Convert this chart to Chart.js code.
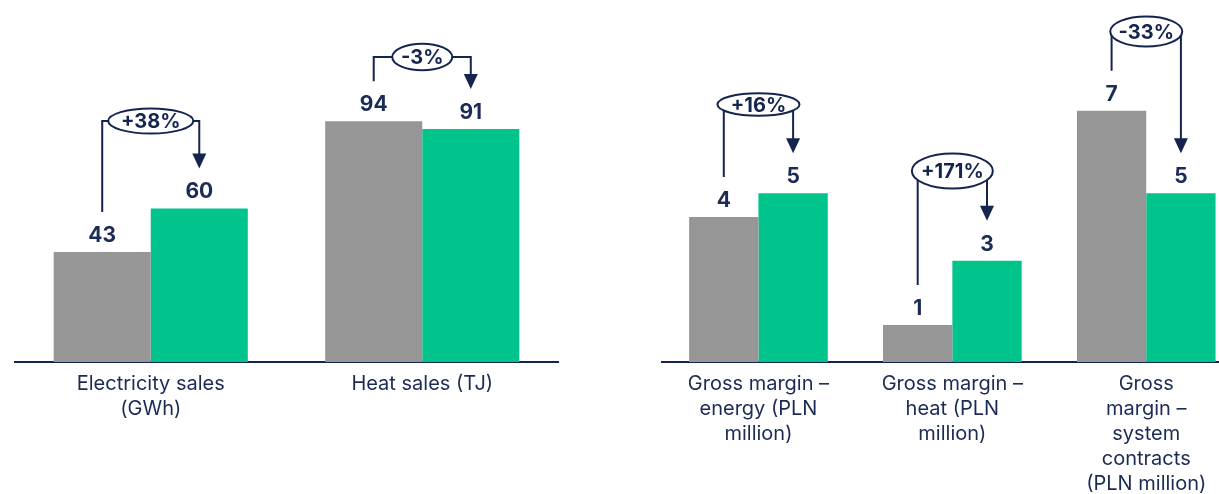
<!DOCTYPE html>
<html>
<head>
<meta charset="utf-8">
<script src="https://cdn.jsdelivr.net/npm/chart.js@4.4.1/dist/chart.umd.min.js"></script>
<style>
  html, body { margin: 0; padding: 0; background: #fff; overflow: hidden; width: 1219px; height: 494px; }
  #wrap { position: relative; width: 1219px; height: 494px; overflow: hidden; }
  #volumes { position: absolute; left: 0; top: 0; }
  #margins { position: absolute; left: 600px; top: 0; }
</style>
</head>
<body>
<div id="wrap">
  <canvas id="volumes" width="600" height="494"></canvas>
  <canvas id="margins" width="680" height="494"></canvas>
</div>
<script>
// Sales volumes
const volumeCategories = [["Electricity sales", "(GWh)"], "Heat sales (TJ)"];
const volumePrev = [43, 94];
const volumeCurr = [60, 91];
const volumeChange = ["+38%", "-3%"];

// Gross margins, PLN million
const marginCategories = [
  ["Gross margin –", "energy (PLN", "million)"],
  ["Gross margin –", "heat (PLN", "million)"],
  ["Gross", "margin –", "system", "contracts", "(PLN million)"]
];
const marginPrev = [4.3, 1.1, 7.45];
const marginCurr = [5.0, 3.0, 5.0];
const marginChange = ["+16%", "+171%", "-33%"];

// Styling
const NAVY = '#14244f';
const TEXT = '#1c2b55';
const GREY = '#969696';
const GREEN = '#00c48c';
const FONT = 'Inter, "Noto Sans", "DejaVu Sans", sans-serif';

// Change-bracket geometry per category: line height (px) and ellipse radii
const volumeBracketLayout = [
  { level: 121, rx: 42.5, ry: 12.5 },
  { level: 57,  rx: 30,   ry: 13.3 }
];
const marginBracketLayout = [
  { level: 104.5, rx: 41,   ry: 11.2 },
  { level: 171,   rx: 40.5, ry: 17.5 },
  { level: 31.5,  rx: 36,   ry: 15 }
];

// Value labels above each bar
function valueLabelPlugin(fmt) {
  return {
    id: 'valueLabels',
    afterDatasetsDraw(chart) {
      const ctx = chart.ctx;
      ctx.save();
      ctx.font = 'bold 21px ' + FONT;
      ctx.fillStyle = TEXT;
      ctx.textAlign = 'center';
      ctx.textBaseline = 'alphabetic';
      chart.data.datasets.forEach((ds, di) => {
        chart.getDatasetMeta(di).data.forEach((bar, i) => {
          ctx.fillText(fmt(ds.data[i]), bar.x, bar.y - 10);
        });
      });
      ctx.restore();
    }
  };
}

// Bracket arrows from the previous bar to the current one, with change in an ellipse
function bracketPlugin(changes, layout) {
  return {
    id: 'changeBrackets',
    afterDatasetsDraw(chart) {
      const ctx = chart.ctx;
      const prev = chart.getDatasetMeta(0).data;
      const curr = chart.getDatasetMeta(1).data;
      const xs = chart.scales.x;
      ctx.save();
      ctx.strokeStyle = NAVY;
      ctx.fillStyle = NAVY;
      ctx.lineWidth = 2;
      changes.forEach((txt, i) => {
        const L = layout[i];
        const xL = prev[i].x, yL = prev[i].y - 40;
        const xR = curr[i].x, tip = curr[i].y - 40;
        ctx.beginPath();
        ctx.moveTo(xL, yL);
        ctx.lineTo(xL, L.level);
        ctx.lineTo(xR, L.level);
        ctx.lineTo(xR, tip - 13);
        ctx.stroke();
        ctx.beginPath();
        ctx.moveTo(xR - 7, tip - 15);
        ctx.lineTo(xR + 7, tip - 15);
        ctx.lineTo(xR, tip);
        ctx.closePath();
        ctx.fill();
        const cx = xs.getPixelForValue(i);
        ctx.beginPath();
        ctx.ellipse(cx, L.level, L.rx, L.ry, 0, 0, Math.PI * 2);
        ctx.fillStyle = '#fff';
        ctx.fill();
        ctx.stroke();
        ctx.fillStyle = NAVY;
        ctx.font = 'bold 20px ' + FONT;
        ctx.textAlign = 'center';
        ctx.textBaseline = 'middle';
        ctx.fillText(txt, cx, L.level + 1);
      });
      ctx.restore();
    }
  };
}

function makeChart(id, cats, prev, curr, yMax, padL, padR, fmt, changes, layout) {
  return new Chart(document.getElementById(id), {
    type: 'bar',
    data: {
      labels: cats,
      datasets: [
        { label: 'Previous period', data: prev, backgroundColor: GREY },
        { label: 'Current period', data: curr, backgroundColor: GREEN }
      ]
    },
    options: {
      responsive: false,
      animation: false,
      devicePixelRatio: 1,
      layout: { padding: { left: padL, right: padR, top: 0, bottom: 0 }, autoPadding: false },
      plugins: { legend: { display: false }, tooltip: { enabled: false } },
      datasets: { bar: { categoryPercentage: 0.715, barPercentage: 1, borderWidth: 0 } },
      scales: {
        x: {
          z: 1,
          grid: { display: false, drawTicks: false },
          border: { display: true, color: NAVY, width: 2 },
          ticks: {
            color: TEXT,
            padding: 9,
            maxRotation: 0,
            autoSkip: false,
            font: { family: FONT, size: 20, lineHeight: 1.25 }
          },
          afterFit(s) { s.height = 132; }
        },
        y: { display: false, min: 0, max: yMax }
      }
    },
    plugins: [valueLabelPlugin(fmt), bracketPlugin(changes, layout)]
  });
}

makeChart('volumes', volumeCategories, volumePrev, volumeCurr, 362 / 2.56, 15, 42,
  v => String(v), volumeChange, volumeBracketLayout);
makeChart('margins', marginCategories, marginPrev, marginCurr, 362 / 33.74, 61.5, 36.8,
  v => String(Math.round(v)), marginChange, marginBracketLayout);
</script>
</body>
</html>
